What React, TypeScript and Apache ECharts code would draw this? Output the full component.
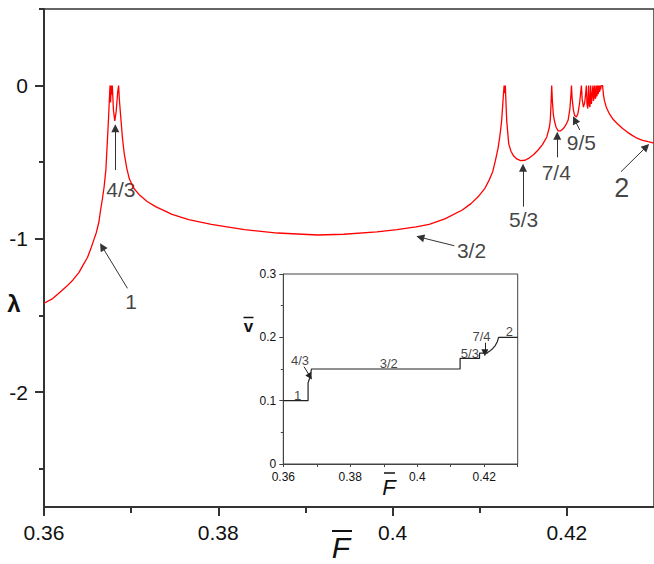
import React, { useEffect, useRef } from "react";
import * as echarts from "echarts";

// ---- Main panel: Lyapunov exponent λ versus mean force F̄ ----
const lyapunovCurve: [number, number][] = [
  [0.36, -1.42], [0.361, -1.39], [0.3618, -1.35], [0.3626, -1.31], [0.3633, -1.27],
  [0.364, -1.22], [0.3645, -1.17], [0.365, -1.12], [0.3654, -1.06], [0.3657, -1.01],
  [0.366, -0.96], [0.3663, -0.89], [0.3665, -0.81], [0.3667, -0.74], [0.3669, -0.66],
  [0.3671, -0.55], [0.3672, -0.44], [0.3673, -0.33], [0.3674, -0.22], [0.3675, -0.09],
  [0.36758, 0], [0.36764, -0.11], [0.36771, 0], [0.36777, -0.06], [0.36784, 0],
  [0.36797, -0.16], [0.36812, -0.23], [0.36828, -0.17], [0.36846, -0.04], [0.36856, 0],
  [0.36866, -0.1], [0.36883, -0.22], [0.369, -0.34], [0.3692, -0.44], [0.3695, -0.54],
  [0.3698, -0.61], [0.3703, -0.67], [0.3709, -0.71], [0.3718, -0.755], [0.3728, -0.79],
  [0.3747, -0.84], [0.3766, -0.875], [0.3792, -0.905], [0.383, -0.94], [0.3868, -0.962],
  [0.3914, -0.975], [0.3944, -0.97], [0.3982, -0.955], [0.4005, -0.94], [0.4027, -0.922],
  [0.4042, -0.905], [0.406, -0.87], [0.408, -0.812], [0.409, -0.77], [0.4099, -0.72],
  [0.4106, -0.67], [0.4111, -0.615], [0.4115, -0.56], [0.4118, -0.49], [0.4121, -0.41],
  [0.4123, -0.335], [0.4125, -0.24], [0.4126, -0.16], [0.41272, -0.06], [0.4128, 0],
  [0.41287, -0.05], [0.41294, 0], [0.41302, -0.12], [0.4131, -0.23], [0.41333, -0.38],
  [0.4136, -0.43], [0.4139, -0.46], [0.4143, -0.48], [0.4147, -0.49], [0.4152, -0.487],
  [0.4156, -0.475], [0.4162, -0.45], [0.4167, -0.42], [0.4172, -0.385], [0.4177, -0.335],
  [0.418, -0.27], [0.4181, -0.225], [0.4182, -0.1], [0.41826, 0], [0.41834, -0.1],
  [0.41845, -0.19], [0.41856, -0.225], [0.41875, -0.27], [0.419, -0.295], [0.4193, -0.295],
  [0.4196, -0.28], [0.4199, -0.255], [0.42015, -0.225], [0.42035, -0.15], [0.42047, -0.06],
  [0.42053, 0], [0.4206, -0.08], [0.42075, -0.16], [0.4209, -0.195], [0.4211, -0.205],
  [0.42128, -0.18], [0.42145, -0.12], [0.42158, -0.05], [0.42167, 0], [0.42176, -0.09],
  [0.4219, -0.14], [0.42205, -0.11], [0.42216, -0.05], [0.42224, 0], [0.42231, -0.12],
  [0.4224, -0.15], [0.4225, 0], [0.42258, -0.13], [0.42265, -0.14], [0.42273, 0],
  [0.42282, -0.12], [0.4229, -0.12], [0.42299, 0], [0.42306, -0.1], [0.42312, -0.1],
  [0.42318, 0], [0.42325, -0.085], [0.42331, -0.08], [0.42337, 0], [0.42343, -0.07],
  [0.42347, -0.065], [0.42352, 0], [0.42358, -0.055], [0.42362, -0.05], [0.42367, 0],
  [0.42373, -0.04], [0.42378, -0.035], [0.42383, 0], [0.42388, -0.025], [0.42394, 0],
  [0.4241, 0], [0.4242, -0.06], [0.42432, -0.1], [0.42455, -0.145], [0.42489, -0.185],
  [0.4253, -0.22], [0.42583, -0.25], [0.4264, -0.28], [0.42697, -0.305], [0.4275, -0.325],
  [0.4281, -0.345], [0.4287, -0.357], [0.42932, -0.366], [0.43, -0.375],
];

const mainXMajorTicks = [0.36, 0.38, 0.4, 0.42];
const mainXMinorTicks = [0.37, 0.39, 0.41];
const mainYMajorTicks = [-2, -1, 0];
const mainYMinorTicks = [-2.5, -1.5, -0.5, 0.5];

// Annotations of the main panel: label text, label anchor, arrow tail, arrow tip (data coords)
const mainLabels = ["1", "4/3", "3/2", "5/3", "7/4", "9/5", "2"];
const mainLabelAt: [number, number][] = [
  [0.37, -1.41], [0.36883, -0.675], [0.40906, -1.073], [0.41503, -0.877],
  [0.41878, -0.567], [0.42167, -0.368], [0.4263, -0.665],
];
const mainArrowFrom: [number, number][] = [
  [0.36958, -1.323], [0.36818, -0.551], [0.40708, -1.045], [0.41497, -0.79],
  [0.4189, -0.468], [0.42148, -0.29], [0.42621, -0.562],
];
const mainArrowTo: [number, number][] = [
  [0.36667, -1.051], [0.36818, -0.279], [0.40318, -0.99], [0.41497, -0.536],
  [0.4189, -0.327], [0.42091, -0.224], [0.42912, -0.399],
];

// ---- Inset: mean velocity v̄ versus F̄ (devil's staircase) ----
const velocitySteps: [number, number][] = [
  [0.36, 0.1], [0.3674, 0.1], [0.3674, 0.128], [0.3677, 0.133], [0.368, 0.136],
  [0.3684, 0.15], [0.4128, 0.15], [0.4128, 0.1667], [0.4186, 0.1667], [0.4186, 0.175],
  [0.4209, 0.175], [0.4212, 0.177], [0.4218, 0.179], [0.4225, 0.182], [0.4233, 0.187],
  [0.4239, 0.193], [0.4243, 0.2], [0.43, 0.2],
];
const insetXTicks = [0.36, 0.37, 0.38, 0.39, 0.4, 0.41, 0.42, 0.43];
const insetXLabels = [0.36, 0.38, 0.4, 0.42];
const insetYMajorTicks = [0, 0.1, 0.2, 0.3];
const insetYMinorTicks = [0.05, 0.15, 0.25];

const insetLabels = ["1", "4/3", "3/2", "5/3", "7/4", "2"];
const insetLabelAt: [number, number][] = [
  [0.3643, 0.108], [0.365, 0.164], [0.3915, 0.158], [0.4157, 0.175], [0.4192, 0.201], [0.4275, 0.21],
];
const insetArrowFrom: [number, number][] = [[0.3662, 0.1537], [0.4202, 0.1915]];
const insetArrowTo: [number, number][] = [[0.368, 0.138], [0.4202, 0.1755]];

const FONT = "'Liberation Sans', Arial, Helvetica, sans-serif";
const INK = "#111";
const AXIS = "#333";
const ARROW_HEAD = "path://M5,0 L10,12 L0,12 Z";

export default function App() {
  const ref = useRef<HTMLDivElement>(null);

  useEffect(() => {
    if (!ref.current) return;
    const chart = echarts.init(ref.current, undefined, { renderer: "svg" });

    const arrowLines = (from: [number, number][], to: [number, number][]) =>
      from.map((f, i) => [{ coord: f }, { coord: to[i] }]);

    const option: any = {
      animation: false,
      textStyle: { fontFamily: FONT },
      grid: [
        { left: 44, top: 9, width: 616, height: 498, show: true, borderColor: AXIS, borderWidth: 1.5, backgroundColor: "transparent" },
        { left: 283.3, top: 274, width: 234.4, height: 190, show: true, borderColor: "#444", borderWidth: 1, backgroundColor: "#fff" },
      ],
      xAxis: [
        {
          type: "value", gridIndex: 0, min: 0.36, max: 0.43, position: "bottom",
          axisLine: { onZero: false, lineStyle: { color: AXIS, width: 2 } },
          axisTick: { customValues: mainXMajorTicks, length: 9, lineStyle: { color: AXIS, width: 2 } },
          axisLabel: { customValues: mainXMajorTicks, fontSize: 21, color: INK, margin: 15, fontFamily: FONT },
          splitLine: { show: false },
        },
        {
          type: "value", gridIndex: 0, min: 0.36, max: 0.43, position: "bottom",
          axisLine: { onZero: false, show: false },
          axisTick: { customValues: mainXMinorTicks, length: 6, lineStyle: { color: AXIS, width: 2 } },
          axisLabel: { show: false },
          splitLine: { show: false },
        },
        {
          type: "value", gridIndex: 1, min: 0.36, max: 0.43, position: "bottom",
          axisLine: { onZero: false, lineStyle: { color: "#444", width: 1 } },
          axisTick: { customValues: insetXTicks, length: 3, lineStyle: { color: "#444", width: 1 } },
          axisLabel: { customValues: insetXLabels, fontSize: 12, color: INK, margin: 7, fontFamily: FONT },
          splitLine: { show: false },
        },
      ],
      yAxis: [
        {
          type: "value", gridIndex: 0, min: -2.75, max: 0.5, position: "left",
          axisLine: { onZero: false, lineStyle: { color: AXIS, width: 2 } },
          axisTick: { customValues: mainYMajorTicks, length: 9, lineStyle: { color: AXIS, width: 2 } },
          axisLabel: { customValues: mainYMajorTicks, fontSize: 21, color: INK, margin: 16, fontFamily: FONT },
          splitLine: { show: false },
        },
        {
          type: "value", gridIndex: 0, min: -2.75, max: 0.5, position: "left",
          axisLine: { onZero: false, show: false },
          axisTick: { customValues: mainYMinorTicks, length: 5, lineStyle: { color: AXIS, width: 2 } },
          axisLabel: { show: false },
          splitLine: { show: false },
        },
        {
          type: "value", gridIndex: 1, min: 0, max: 0.3, position: "left",
          axisLine: { onZero: false, lineStyle: { color: "#444", width: 1 } },
          axisTick: { customValues: insetYMajorTicks, length: 4, lineStyle: { color: "#444", width: 1 } },
          axisLabel: { customValues: insetYMajorTicks, fontSize: 12, color: INK, margin: 7, fontFamily: FONT },
          splitLine: { show: false },
        },
        {
          type: "value", gridIndex: 1, min: 0, max: 0.3, position: "left",
          axisLine: { onZero: false, show: false },
          axisTick: { customValues: insetYMinorTicks, length: 2.5, lineStyle: { color: "#444", width: 1 } },
          axisLabel: { show: false },
          splitLine: { show: false },
        },
      ],
      series: [
        {
          type: "line", xAxisIndex: 0, yAxisIndex: 0, data: lyapunovCurve,
          showSymbol: false, symbol: "none", silent: true,
          lineStyle: { color: "#ff0000", width: 1.3 },
          markLine: {
            silent: true, symbol: ["none", ARROW_HEAD], symbolSize: 8, precision: 6,
            label: { show: false },
            lineStyle: { color: "#333", width: 1, type: "solid" },
            data: arrowLines(mainArrowFrom, mainArrowTo),
          },
        },
        {
          type: "scatter", xAxisIndex: 0, yAxisIndex: 0, symbolSize: 1, silent: true,
          itemStyle: { color: "transparent" },
          label: { show: true, position: "inside", formatter: "{b}", fontSize: 21, color: INK, fontFamily: FONT },
          data: mainLabels.map((t, i) => ({
            name: t, value: mainLabelAt[i],
            label: t === "2" ? { fontSize: 27 } : undefined,
          })),
        },
        {
          type: "line", xAxisIndex: 2, yAxisIndex: 2, data: velocitySteps,
          showSymbol: false, symbol: "none", silent: true,
          lineStyle: { color: "#222", width: 1.2 },
          markLine: {
            silent: true, symbol: ["none", ARROW_HEAD], symbolSize: 7, precision: 6,
            label: { show: false },
            lineStyle: { color: "#222", width: 1, type: "solid" },
            data: arrowLines(insetArrowFrom, insetArrowTo),
          },
        },
        {
          type: "scatter", xAxisIndex: 2, yAxisIndex: 2, symbolSize: 1, silent: true,
          itemStyle: { color: "transparent" },
          label: { show: true, position: "inside", formatter: "{b}", fontSize: 13, color: INK, fontFamily: FONT },
          data: insetLabels.map((t, i) => ({ name: t, value: insetLabelAt[i] })),
        },
      ],
      graphic: [
        // main y-axis name λ
        { type: "text", x: 14, y: 303, style: { text: "λ", fontSize: 24, fontWeight: "bold", fontFamily: FONT, fill: INK, align: "center", verticalAlign: "middle", textAlign: "center", textVerticalAlign: "middle" } },
        // main x-axis name F̄
        { type: "text", x: 341, y: 547, style: { text: "F", fontSize: 30, fontStyle: "italic", fontFamily: FONT, fill: INK, align: "center", verticalAlign: "middle", textAlign: "center", textVerticalAlign: "middle" } },
        { type: "line", shape: { x1: 332, y1: 531, x2: 352, y2: 531 }, style: { stroke: INK, lineWidth: 2 } },
        // inset y-axis name v̄
        { type: "text", x: 248.5, y: 326, style: { text: "v", fontSize: 17, fontWeight: "bold", fontFamily: FONT, fill: INK, align: "center", verticalAlign: "middle", textAlign: "center", textVerticalAlign: "middle" } },
        { type: "line", shape: { x1: 243.5, y1: 317.5, x2: 253.5, y2: 317.5 }, style: { stroke: INK, lineWidth: 1.5 } },
        // inset x-axis name F̄
        { type: "text", x: 389, y: 487, style: { text: "F", fontSize: 22, fontStyle: "italic", fontFamily: FONT, fill: INK, align: "center", verticalAlign: "middle", textAlign: "center", textVerticalAlign: "middle" } },
        { type: "line", shape: { x1: 384, y1: 473, x2: 395, y2: 473 }, style: { stroke: INK, lineWidth: 1.5 } },
      ],
    };

    chart.setOption(option);
    return () => chart.dispose();
  }, []);

  return (
    <div
      ref={ref}
      style={{ position: "absolute", left: 0, top: 0, width: 654, height: 564, background: "#fff" }}
    />
  );
}
